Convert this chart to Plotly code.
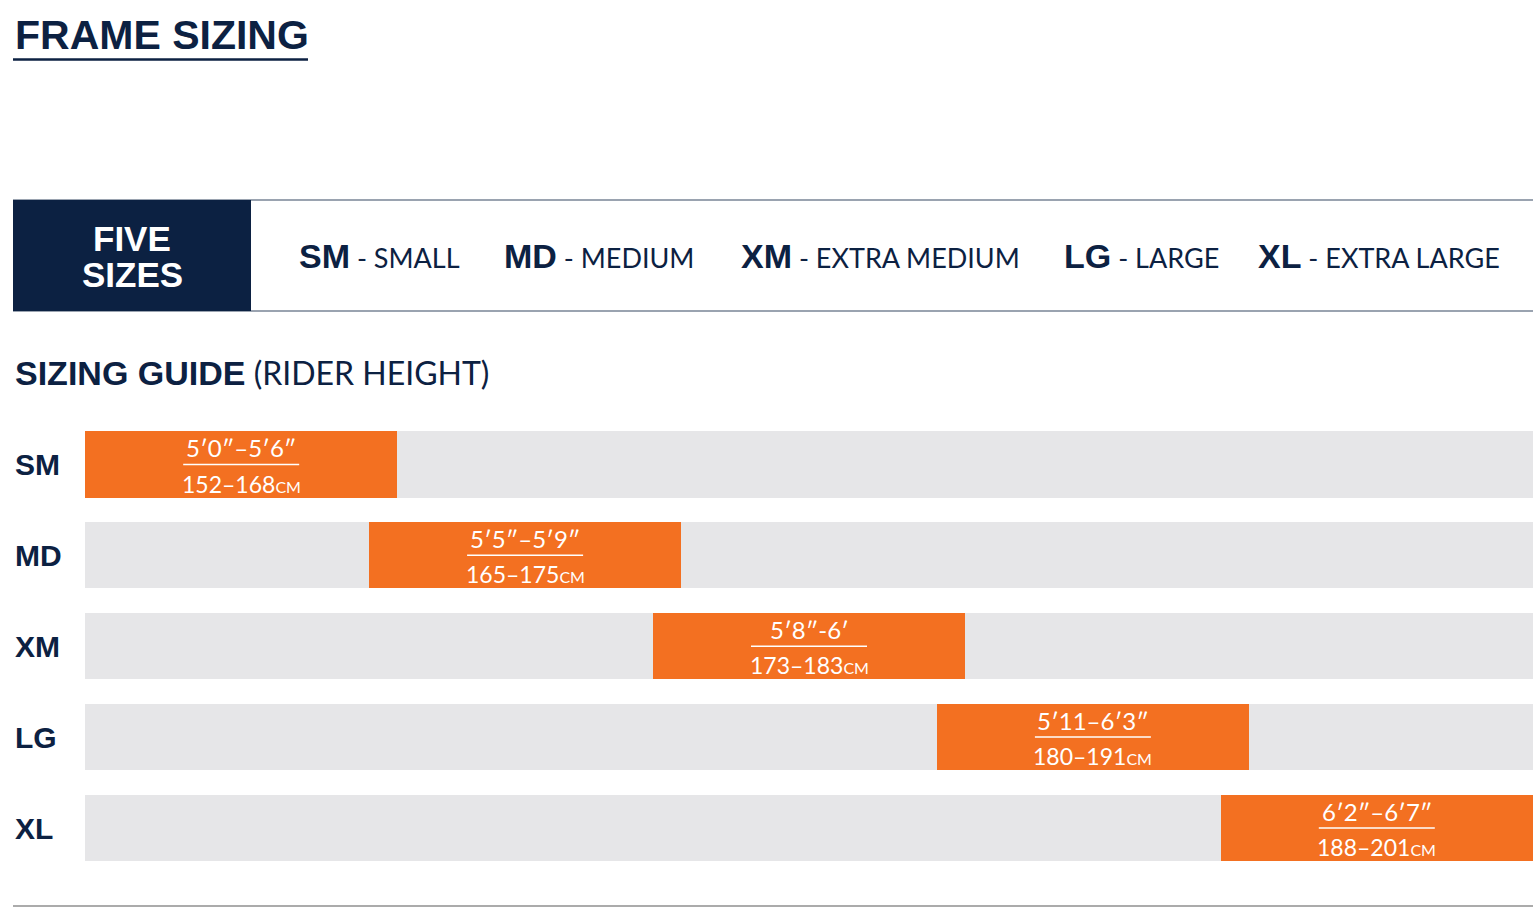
import plotly.graph_objects as go

# ---------------- data ----------------
size_codes = ["SM", "MD", "XM", "LG", "XL"]
size_names = ["SMALL", "MEDIUM", "EXTRA MEDIUM", "LARGE", "EXTRA LARGE"]
height_imperial = ["5′0″–5′6″", "5′5″–5′9″", "5′8″-6′", "5′11–6′3″", "6′2″–6′7″"]
height_metric_lo = [152, 165, 173, 180, 188]
height_metric_hi = [168, 175, 183, 191, 201]

# ---------------- style / layout constants ----------------
W, H = 1536, 909
NAVY = "#0c2142"
ORANGE = "#f37021"
TRACK = "#e6e6e8"
RULE = "#9aa3b0"
BOLD = "Liberation Sans, Arial, sans-serif"
LIGHT = "Lato, 'Open Sans', sans-serif"

SLOT_STEP = 284.0      # schematic horizontal offset between consecutive sizes
SLOT_SPAN = 312.5      # schematic length of a size band
TRACK_LEN = SLOT_STEP * (len(size_codes) - 1) + SLOT_SPAN

def px(x):
    return x / W

def py(y):
    return 1 - y / H

n = len(size_codes)
idx = list(range(n))
band_base = [i * SLOT_STEP for i in idx]
band_mid = [b + SLOT_SPAN / 2 for b in band_base]

fig = go.Figure()

# grey tracks
fig.add_trace(go.Bar(
    y=idx, x=[TRACK_LEN] * n, base=[0] * n, orientation="h",
    marker=dict(color=TRACK, line=dict(width=0)), width=0.73,
    hoverinfo="skip", showlegend=False,
))
# orange size bands
fig.add_trace(go.Bar(
    y=idx, x=[SLOT_SPAN] * n, base=band_base, orientation="h",
    marker=dict(color=ORANGE, line=dict(width=0)), width=0.73,
    hoverinfo="skip", showlegend=False,
))

row_top, row_bot = 464.5, 828.0
half = (row_bot - row_top) / (n - 1) / 2
fig.update_layout(
    width=W, height=H, margin=dict(l=0, r=0, t=0, b=0), autosize=False,
    paper_bgcolor="white", plot_bgcolor="white",
    barmode="overlay", bargap=0,
    xaxis=dict(domain=[px(85), px(1533)], range=[0, TRACK_LEN], visible=False, fixedrange=True),
    yaxis=dict(domain=[py(row_bot + half), py(row_top - half)],
               range=[n - 0.5, -0.5], visible=False, fixedrange=True),
)

ann = []
shapes = []

# Title
ann.append(dict(xref="paper", yref="paper", x=px(13), y=py(35), xanchor="left", yanchor="middle",
                text="FRAME SIZING", showarrow=False,
                font=dict(family=BOLD, size=41, color=NAVY, weight="bold")))
shapes.append(dict(type="line", xref="paper", yref="paper", x0=px(13), x1=px(308),
                   y0=py(59.5), y1=py(59.5), line=dict(color=NAVY, width=2.5)))

# header band
shapes.append(dict(type="line", xref="paper", yref="paper", x0=px(13), x1=px(1533),
                   y0=py(200), y1=py(200), line=dict(color=RULE, width=2)))
shapes.append(dict(type="line", xref="paper", yref="paper", x0=px(13), x1=px(1533),
                   y0=py(311), y1=py(311), line=dict(color=RULE, width=2)))
shapes.append(dict(type="rect", xref="paper", yref="paper", x0=px(13), x1=px(251),
                   y0=py(311), y1=py(200), fillcolor=NAVY, line=dict(width=0), layer="above"))
ann.append(dict(xref="paper", yref="paper", x=px(132), y=py(238), xanchor="center", yanchor="middle",
                text="FIVE", showarrow=False,
                font=dict(family=BOLD, size=35, color="white", weight="bold")))
ann.append(dict(xref="paper", yref="paper", x=px(132), y=py(275), xanchor="center", yanchor="middle",
                text="SIZES", showarrow=False,
                font=dict(family=BOLD, size=35, color="white", weight="bold")))

header_x = [297, 502, 739, 1062, 1256]
for code, name, hx in zip(size_codes, size_names, header_x):
    txt = ("<span style=\"font-family:'Liberation Sans',Arial;font-weight:bold;font-size:34px\">"
           + code + "</span> - " + name)
    ann.append(dict(xref="paper", yref="paper", x=px(hx), y=py(256), xanchor="left", yanchor="middle",
                    text=txt, showarrow=False,
                    font=dict(family=LIGHT, size=27, color=NAVY)))

# Sizing guide heading
ann.append(dict(xref="paper", yref="paper", x=px(13), y=py(372), xanchor="left", yanchor="middle",
                text="<span style=\"font-family:'Liberation Sans',Arial;font-weight:bold;font-size:34px\">SIZING GUIDE</span> (RIDER HEIGHT)",
                showarrow=False, font=dict(family=LIGHT, size=32, color=NAVY)))

# Row labels and band texts
for i, code in enumerate(size_codes):
    ann.append(dict(xref="paper", yref="y", x=px(13), y=i, xanchor="left", yanchor="middle",
                    text=code, showarrow=False,
                    font=dict(family=BOLD, size=30, color=NAVY, weight="bold")))
    ann.append(dict(xref="x", yref="y", x=band_mid[i], y=i, yshift=17, xanchor="center", yanchor="middle",
                    text=height_imperial[i], showarrow=False,
                    font=dict(family=LIGHT, size=24, color="white")))
    ann.append(dict(xref="x", yref="y", x=band_mid[i], y=i, yshift=-19, xanchor="center", yanchor="middle",
                    text=f"{height_metric_lo[i]}–{height_metric_hi[i]}<span style=\"font-size:16px\">CM</span>",
                    showarrow=False, font=dict(family=LIGHT, size=23, color="white")))
    shapes.append(dict(type="line", xref="x", yref="y", xsizemode="pixel", xanchor=band_mid[i],
                       x0=-58, x1=58, y0=i, y1=i, line=dict(color="white", width=1.5)))

# bottom rule
shapes.append(dict(type="line", xref="paper", yref="paper", x0=px(13), x1=px(1533),
                   y0=py(906), y1=py(906), line=dict(color="#8f8f8f", width=1.5)))

fig.update_layout(annotations=ann, shapes=shapes)
fig.write_html("out.html")
